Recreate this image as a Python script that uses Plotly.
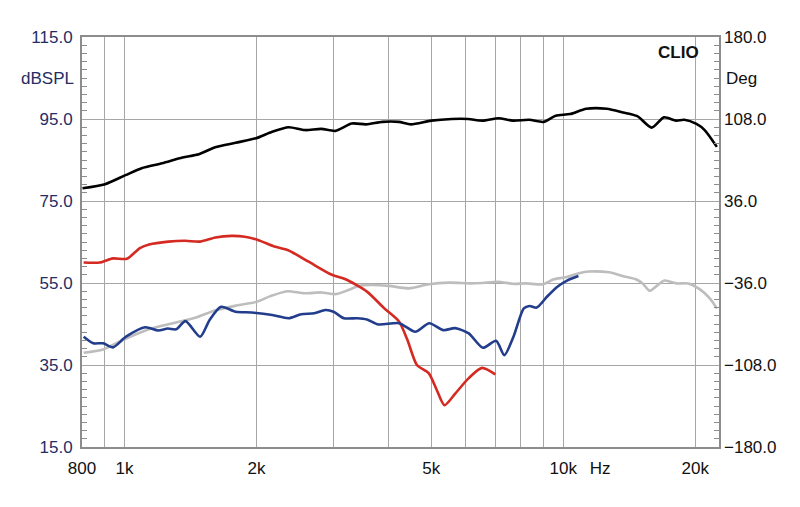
import plotly.graph_objects as go
import math

# ---- data ----
black_f = [802, 903, 1005, 1094, 1218, 1356, 1477, 1609, 1791, 1993, 2171, 2366, 2577, 2808, 3026,
           3296, 3553, 3870, 4218, 4496, 5004, 5569, 6069, 6540, 7126, 7682, 8367, 9018, 9614,
           10363, 11289, 12566, 13692, 14753, 15904, 16964, 18079, 18880, 20122, 21008, 22396]
black_db = [78.1, 79.1, 81.3, 83.0, 84.2, 85.6, 86.4, 88.1, 89.2, 90.3, 91.9, 93.0, 92.3, 92.6, 92.1,
            93.9, 93.7, 94.3, 94.3, 93.7, 94.6, 95.0, 95.0, 94.6, 95.2, 94.6, 94.8, 94.3, 95.8,
            96.2, 97.5, 97.5, 96.6, 95.7, 92.9, 95.4, 94.6, 94.8, 93.8, 92.3, 88.2]

red_f = [807, 878, 941, 1012, 1084, 1138, 1259, 1374, 1488, 1611, 1755, 1880, 2014, 2195, 2360,
         2627, 2970, 3190, 3570, 3910, 4224, 4415, 4640, 4935, 5150, 5360, 5680, 6090, 6530, 7000]
red_db = [60.0, 60.0, 61.0, 60.9, 63.5, 64.4, 65.1, 65.3, 65.1, 66.1, 66.5, 66.3, 65.5, 63.9, 63.0,
          60.2, 57.0, 55.9, 52.9, 48.8, 45.6, 41.1, 35.0, 33.0, 28.9, 25.2, 28.1, 31.8, 34.3, 32.7]

blue_f = [807, 849, 894, 941, 1008, 1115, 1193, 1255, 1310, 1377, 1487, 1563, 1660, 1791, 1950,
          2171, 2366, 2528, 2707, 2870, 2995, 3163, 3390, 3570, 3790, 4230, 4600, 4950, 5330,
          5670, 6090, 6560, 7030, 7340, 7700, 8130, 8380, 8700, 9190, 9700, 10200, 10830]
blue_db = [41.9, 40.3, 40.3, 39.3, 41.9, 44.2, 43.4, 43.9, 43.7, 45.7, 41.9, 46.0, 49.2, 48.0, 47.8,
           47.2, 46.4, 47.4, 47.6, 48.4, 48.0, 46.4, 46.4, 46.1, 44.9, 45.2, 43.1, 45.2, 43.5,
           44.0, 42.7, 39.2, 40.9, 37.4, 41.9, 48.8, 49.4, 49.0, 51.7, 54.1, 55.6, 56.7]

gray_f = [807, 894, 991, 1120, 1267, 1455, 1619, 1800, 2000, 2150, 2350, 2570, 2810, 3040, 3240,
          3420, 3640, 4000, 4450, 4940, 5500, 6150, 6540, 7100, 7680, 8230, 9020, 9510, 10130,
          10860, 11450, 12720, 13650, 14640, 15170, 15740, 16260, 17010, 18140, 19270, 20460,
          21560, 22400]
gray_db = [38.0, 38.8, 41.1, 43.5, 45.0, 46.6, 48.4, 49.5, 50.4, 51.8, 53.0, 52.5, 52.7, 52.3, 53.3,
           54.3, 54.5, 54.3, 53.7, 54.7, 55.1, 54.9, 55.0, 55.3, 54.8, 54.9, 54.7, 55.9, 56.4,
           57.4, 57.8, 57.6, 56.7, 55.9, 54.9, 53.1, 54.1, 55.6, 54.9, 54.9, 53.5, 51.3, 48.8]

x_tickvals = [800, 1000, 2000, 5000, 10000, 12140, 20000]
x_ticktext = ["800", "1k", "2k", "5k", "10k", "Hz", "20k"]
x_gridvals = [900, 1000, 2000, 3000, 4000, 5000, 6000, 7000, 8000, 9000, 10000, 20000]
y_range = [15, 115]
y2_range = [-180, 180]

FONT = "Liberation Sans, Arial, sans-serif"
GRID = "#a6a6a6"
FRAME = "#8c8c8c"

fig = go.Figure()
series = [
    (gray_f, gray_db, "#bdbdbd"),
    (black_f, black_db, "#000000"),
    (red_f, red_db, "#d42a22"),
    (blue_f, blue_db, "#213d8c"),
]
for fx, fy, col in series:
    fig.add_trace(go.Scatter(x=fx, y=fy, mode="lines",
                             line=dict(color=col, width=2.6, shape="spline", smoothing=0.7),
                             showlegend=False, hoverinfo="skip"))

fig.update_layout(
    width=800, height=507,
    margin=dict(l=82, r=81, t=37, b=60),
    paper_bgcolor="white", plot_bgcolor="white",
    font=dict(family=FONT, size=17, color="#000000"),
    xaxis=dict(
        type="log", range=[math.log10(800), math.log10(22650)],
        tickmode="array", tickvals=x_tickvals, ticktext=x_ticktext,
        showgrid=False, ticks="", ticklabelstandoff=5,
        tickfont=dict(family=FONT, size=17, color="#111111"),
        showline=True, linecolor=FRAME, linewidth=2, mirror=True,
        minor=dict(tickmode="array", tickvals=x_gridvals, showgrid=True,
                   gridcolor=GRID, gridwidth=1, ticks=""),
        zeroline=False,
    ),
    yaxis=dict(
        range=y_range, tick0=15, dtick=20, tickformat=".1f",
        showgrid=True, gridcolor=GRID, gridwidth=1, ticks="",
        tickfont=dict(family=FONT, size=17, color="#262d66"),
        showline=True, linecolor=FRAME, linewidth=2, mirror=True,
        minor=dict(dtick=2, tick0=15, ticks="inside", ticklen=5, tickcolor=FRAME,
                   tickwidth=1, showgrid=False),
        zeroline=False, ticklabelstandoff=4,
    ),
    yaxis2=dict(
        range=y2_range, tick0=-180, dtick=72, tickformat=".1f",
        overlaying="y", side="right", showgrid=False, ticks="",
        tickfont=dict(family=FONT, size=17, color="#111111"),
        minor=dict(dtick=7.2, tick0=-180, ticks="inside", ticklen=5, tickcolor=FRAME,
                   tickwidth=1, showgrid=False),
        zeroline=False, showline=False, ticklabelstandoff=4,
    ),
)
# dummy trace to activate right axis (no visible marks)
fig.add_trace(go.Scatter(x=[None], y=[None], yaxis="y2", showlegend=False, hoverinfo="skip"))

fig.add_annotation(text="dBSPL", xref="paper", yref="y", x=0, y=105, xanchor="right",
                   yanchor="middle", xshift=-6, showarrow=False,
                   font=dict(family=FONT, size=17, color="#262d66"))
fig.add_annotation(text="Deg", xref="paper", yref="y", x=1, y=105, xanchor="left",
                   yanchor="middle", xshift=5, showarrow=False,
                   font=dict(family=FONT, size=17, color="#111111"))
fig.add_annotation(text="<b>CLIO</b>", xref="paper", yref="paper", x=1, y=1, xanchor="right",
                   yanchor="top", xshift=-18, yshift=-4, showarrow=False,
                   font=dict(family=FONT, size=17, color="#111111"))

fig.write_html("out.html")
